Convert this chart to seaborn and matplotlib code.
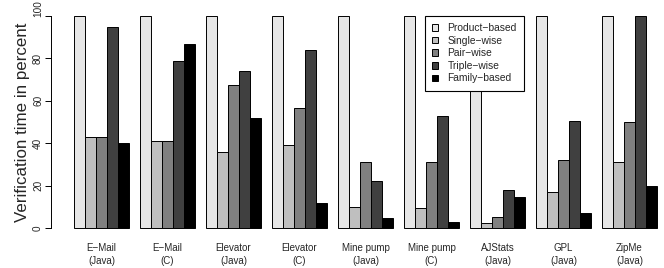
import matplotlib
matplotlib.use("Agg")
import matplotlib.pyplot as plt
import matplotlib.transforms as mtransforms
import seaborn as sns
import pandas as pd

projects = ["E\u2212Mail\n(Java)", "E\u2212Mail\n(C)", "Elevator\n(Java)", "Elevator\n(C)",
            "Mine pump\n(Java)", "Mine pump\n(C)", "AJStats\n(Java)", "GPL\n(Java)", "ZipMe\n(Java)"]
strategies = ["Product\u2212based", "Single\u2212wise", "Pair\u2212wise", "Triple\u2212wise", "Family\u2212based"]

product_based = [100, 100, 100, 100, 100, 100, 100, 100, 100]
single_wise   = [43, 41, 36, 39, 10, 9.5, 2.5, 17, 31]
pair_wise     = [43, 41, 67.3, 56.5, 31, 31, 5, 32, 50]
triple_wise   = [95, 79, 74, 84, 22, 53, 18, 50.5, 100]
family_based  = [40, 87, 52, 12, 4.6, 3, 14.5, 7, 20]

y_ticks = [0, 20, 40, 60, 80, 100]
y_tick_labels = ["0", "20", "40", "60", "80", "100"]

colors = ["#e6e6e6", "#bfbfbf", "#808080", "#404040", "#000000"]

series = [product_based, single_wise, pair_wise, triple_wise, family_based]
rows = []
for s, vals in zip(strategies, series):
    for p, v in zip(projects, vals):
        rows.append({"project": p, "strategy": s, "value": v})
df = pd.DataFrame(rows)

sns.set_style("white")
plt.rcParams["font.family"] = ["Liberation Sans", "DejaVu Sans"]

W, H = 664, 268
fig = plt.figure(figsize=(W / 100, H / 100), dpi=100)
ax = fig.add_axes([50.7 / W, 0.1176, (W - 50.7) / W, 0.8543])

sns.barplot(data=df, x="project", y="value", hue="strategy", order=projects,
            hue_order=strategies, palette=colors, saturation=1, width=5 / 6, gap=0,
            edgecolor="black", linewidth=0.7, ax=ax, errorbar=None)

ax.set_xlim((50.7 - 101.5) / 66, (W - 101.5) / 66)
ax.set_ylim(-4, 104)
ax.set_yticks(y_ticks)
ytick_fs = 7.2
# the top label is placed separately (just below the figure edge, as in the reference)
ax.set_yticklabels(y_tick_labels[:-1] + [""], rotation=90, fontsize=ytick_fs)
for lab in ax.get_yticklabels():
    lab.set_verticalalignment("center")
ax.tick_params(axis="y", length=4, width=0.7, pad=1.5, color="black", left=True)
ax.tick_params(axis="x", length=0, pad=4.5, labelsize=7.0)
for lab in ax.get_xticklabels():
    lab.set_linespacing(1.45)

trans = mtransforms.blended_transform_factory(ax.transAxes, ax.transData)
ax.annotate(y_tick_labels[-1], xy=(0, y_ticks[-1]), xycoords=trans,
            xytext=(-5.5, -0.5), textcoords="offset points", rotation=90,
            ha="right", va="bottom", fontsize=ytick_fs)

for s in ["top", "right", "bottom"]:
    ax.spines[s].set_visible(False)
ax.spines["left"].set_bounds(0, 100)
ax.spines["left"].set_linewidth(0.7)
ax.spines["left"].set_color("black")

ax.set_xlabel("")
ax.set_ylabel("Verification time in percent", fontsize=12.2)
ax.yaxis.set_label_coords((30.5 - 50.7) / (W - 50.7), 0.5)

handles, labels = ax.get_legend_handles_labels()
leg = ax.legend(handles, labels, loc="upper left",
                bbox_to_anchor=(425 / W, 1 - 16 / H), bbox_transform=fig.transFigure,
                borderaxespad=0, fontsize=7.4, frameon=True, fancybox=False,
                framealpha=1, edgecolor="black", handlelength=0.6, handleheight=0.6,
                handletextpad=0.9, borderpad=0.7, labelspacing=0.25)
leg.get_frame().set_linewidth(0.8)

fig.savefig("out.png", dpi=100)
